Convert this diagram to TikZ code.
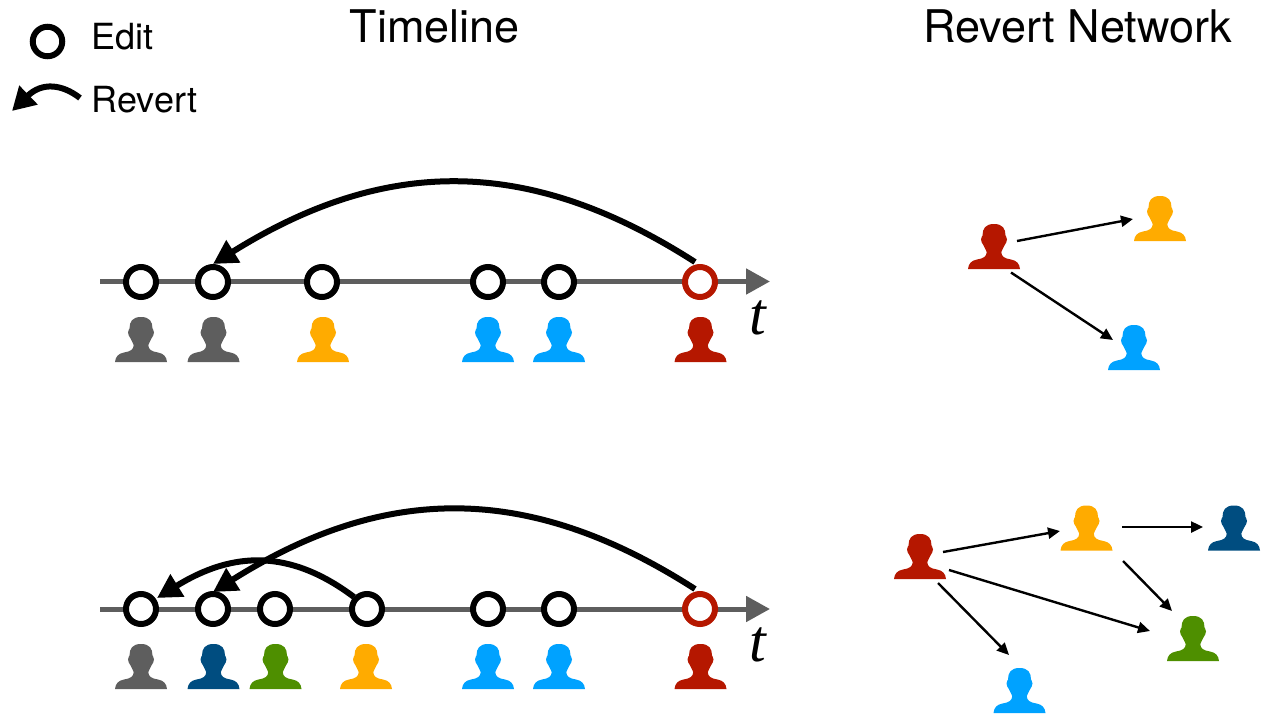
\documentclass[tikz,border=0pt]{standalone}
\usepackage{fontspec}
\setmainfont{TeX Gyre Heros}
\newfontfamily\tfont{Liberation Serif}
\usetikzlibrary{arrows.meta,calc}
\definecolor{cgray}{HTML}{5E5E5E}
\definecolor{corange}{HTML}{FFAB00}
\definecolor{cblue}{HTML}{00A2FF}
\definecolor{cred}{HTML}{B51700}
\definecolor{cnavy}{HTML}{004D80}
\definecolor{cgreen}{HTML}{4E8F00}
\tikzset{
  x=1pt,y=-1pt,
  axisline/.style={draw=cgray,line width=5pt,-{Triangle[length=24pt,width=25pt]}},
  editmark/.style={circle,draw=black,fill=white,line width=6pt,minimum size=30pt,inner sep=0pt,outer sep=0pt},
  revertmark/.style={editmark,draw=cred},
  revertarrow/.style={draw=black,line width=6pt,-{Triangle[length=24pt,width=25pt]}},
  netarrow/.style={draw=black,line width=2.4pt,-{Triangle[length=12pt,width=11pt]}},
  personbox/.style={inner sep=0pt,outer sep=0pt,minimum width=52pt,minimum height=45pt},
  lbl/.style={inner sep=0pt,anchor=base west,font=\fontsize{36}{36}\selectfont},
  ttl/.style={inner sep=0pt,anchor=base,font=\fontsize{45}{45}\selectfont},
  silhouette/.pic={
    \fill[pic actions] (0,-22.5)
      .. controls (8.5,-22.5) and (11.5,-18) .. (11.5,-11)
      .. controls (11.5,-10) and (13,-9.5) .. (13,-7)
      .. controls (13,-4) and (11.5,-3.5) .. (11,-2)
      .. controls (10.5,1) and (7.3,3) .. (7.3,5.5)
      .. controls (7.3,10) and (10.5,12) .. (17,13)
      .. controls (22.5,14) and (25.5,17) .. (26,22.5)
      -- (-26,22.5)
      .. controls (-25.5,17) and (-22.5,14) .. (-17,13)
      .. controls (-10.5,12) and (-7.3,10) .. (-7.3,5.5)
      .. controls (-7.3,3) and (-10.5,1) .. (-11,-2)
      .. controls (-11.5,-3.5) and (-13,-4) .. (-13,-7)
      .. controls (-13,-9.5) and (-11.5,-10) .. (-11.5,-11)
      .. controls (-11.5,-18) and (-8.5,-22.5) .. (0,-22.5) -- cycle;
  }
}
\newcommand{\person}[4]{%
  \node[personbox] (#1) at (#2,#3) {};
  \pic[fill=#4] at (#1.center) {silhouette};
}
\begin{document}
\begin{tikzpicture}
\useasboundingbox (0,0) rectangle (1262,713);

% legend
\node[editmark,minimum size=29.5pt] (legedit) at (47.5,41.5) {};
\node[lbl] (edittext) at (91.5,49.5) {Edit};
\node[lbl] (reverttext) at (91.5,112) {Revert};
\coordinate (legstart) at (80,98);
\coordinate (legend) at (12,111);
\draw[draw=black,line width=6pt,-{Triangle[length=23pt,width=25pt]}] (legstart) .. controls (62,84) and (42,82) .. (legend);

% titles
\node[ttl] (t1) at (435,42) {Timeline};
\node[ttl] (t2) at (1077.5,42) {Revert Network};

% top timeline
\coordinate (a0) at (100,281.5);
\coordinate (a1) at (770,281.5);
\draw[axisline] (a0) -- (a1);
\node[inner sep=0pt,font=\tfont\itshape\fontsize{60}{60}\selectfont] (tt) at (758,318) {t};
\foreach \n/\x in {a/141,b/213,c/322,d/488,e/559}
  \node[editmark] (u\n) at (\x,282) {};
\node[revertmark] (uf) at (700,282) {};
\draw[revertarrow] ($(uf)+(-5,-20)$) .. controls (530,156) and (386,156) .. ($(ub)+(0,-18)$);
\person{pa}{141}{339.5}{cgray}
\person{pb}{213.5}{339.5}{cgray}
\person{pc}{323}{339.5}{corange}
\person{pd}{488}{339.5}{cblue}
\person{pe}{559}{339.5}{cblue}
\person{pf}{700.5}{339.5}{cred}

% bottom timeline
\coordinate (b0) at (100,609);
\coordinate (b1) at (770,609);
\draw[axisline] (b0) -- (b1);
\node[inner sep=0pt,font=\tfont\itshape\fontsize{60}{60}\selectfont] (tb) at (758,645) {t};
\foreach \n/\x in {a/141,b/213,c/275,d/367,e/488,f/559}
  \node[editmark] (v\n) at (\x,609) {};
\node[revertmark] (vg) at (700,609) {};
\draw[revertarrow] ($(vg)+(-5,-20)$) .. controls (530,483) and (386,483) .. ($(vb)+(0,-17)$);
\draw[revertarrow] ($(vd)+(-13,-12)$) .. controls (290,549) and (233,551) .. ($(va)+(16,-11)$);
\person{qa}{141}{666.5}{cgray}
\person{qb}{213.5}{666.5}{cnavy}
\person{qc}{275.5}{666.5}{cgreen}
\person{qd}{366}{666.5}{corange}
\person{qe}{488}{666.5}{cblue}
\person{qf}{559}{666.5}{cblue}
\person{qg}{700.5}{666.5}{cred}

% top network
\person{nr}{994}{246.5}{cred}
\person{no}{1160}{218.5}{corange}
\person{nb}{1134}{347.5}{cblue}
\draw[netarrow] ($(nr)+(23,-5.5)$) -- ($(no)+(-27,0.5)$);
\draw[netarrow] ($(nr)+(17,26)$) -- ($(nb)+(-21,-7.5)$);

% bottom network
\person{mr}{920}{556.5}{cred}
\person{mo}{1086.5}{528}{corange}
\person{mn}{1234}{528}{cnavy}
\person{mg}{1193}{638.5}{cgreen}
\person{mb}{1019.5}{690.5}{cblue}
\draw[netarrow] ($(mr)+(23,-4.5)$) -- ($(mo)+(-26.5,3)$);
\draw[netarrow] ($(mo)+(35.5,-1)$) -- ($(mn)+(-31,-1)$);
\draw[netarrow] ($(mo)+(36.5,33)$) -- ($(mg)+(-21,-27.5)$);
\draw[netarrow] ($(mr)+(29,13.5)$) -- ($(mg)+(-43,-7.5)$);
\draw[netarrow] ($(mr)+(18,26.5)$) -- ($(mb)+(-10.5,-35.5)$);
\end{tikzpicture}
\end{document}
